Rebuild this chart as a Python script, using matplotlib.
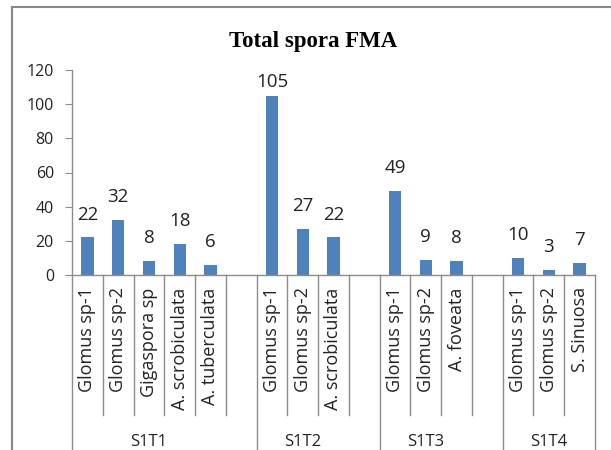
import matplotlib.pyplot as plt
import matplotlib.transforms as mtransforms
from matplotlib.lines import Line2D

# data
groups = ['S1T1', 'S1T2', 'S1T3', 'S1T4']
species = [
    ['Glomus sp-1', 'Glomus sp-2', 'Gigaspora sp', 'A. scrobiculata', 'A. tuberculata'],
    ['Glomus sp-1', 'Glomus sp-2', 'A. scrobiculata'],
    ['Glomus sp-1', 'Glomus sp-2', 'A. foveata'],
    ['Glomus sp-1', 'Glomus sp-2', 'S. Sinuosa'],
]
counts = [
    [22, 32, 8, 18, 6],
    [105, 27, 22],
    [49, 9, 8],
    [10, 3, 7],
]

bar_color = '#4F81BD'
line_color = '#8C8C8C'
y_max = 120

fig = plt.figure(figsize=(6.11, 4.5), dpi=100)
ax = fig.add_axes([72 / 611, 175 / 450, 523 / 611, 205 / 450])

# lay out slots: each group followed by one empty slot (except last)
slot = 0
xs, heights, labels = [], [], []
group_bounds = [0]
for gi, (names, vals) in enumerate(zip(species, counts)):
    for n, v in zip(names, vals):
        xs.append(slot + 0.5)
        heights.append(v)
        labels.append(n)
        slot += 1
    if gi < len(groups) - 1:
        slot += 1
    group_bounds.append(slot)
n_slots = slot

ax.bar(xs, heights, width=0.4, color=bar_color)
for x, h in zip(xs, heights):
    # labels that would run past the top of the plot area are pulled down
    off = 10 if h < y_max - 20 else 3
    ax.annotate(str(h), (x, h), xytext=(0, off), textcoords='offset points',
                ha='center', va='bottom', fontsize=13.5, color='#222222',
                family='Open Sans')

ax.set_xlim(0, n_slots)
ax.set_ylim(0, y_max)
ax.set_yticks(range(0, y_max + 1, 20))
ax.set_xticks([])
for s in ['top', 'right']:
    ax.spines[s].set_visible(False)
for s in ['left', 'bottom']:
    ax.spines[s].set_color(line_color)
    ax.spines[s].set_linewidth(1)
ax.tick_params(axis='y', direction='out', length=5, color=line_color,
               labelsize=11.5, labelcolor='#222222', pad=8)
for t in ax.get_yticklabels():
    t.set_family('Open Sans')

trans = mtransforms.blended_transform_factory(ax.transData, ax.transAxes)

# category separators
for b in range(n_slots + 1):
    y_end = -1.0 if b in group_bounds else -0.683
    ax.add_line(Line2D([b, b], [0, y_end], transform=trans, color=line_color,
                       lw=1, clip_on=False))

# category labels
for x, lab in zip(xs, labels):
    ax.text(x, -0.06, lab, transform=trans, rotation=90, ha='center', va='top',
            fontsize=13, color='#222222', family='Open Sans')

# group labels
for g, a, b in zip(groups, group_bounds[:-1], group_bounds[1:]):
    if g != groups[-1]:
        b = b - 1
    ax.text((a + b) / 2, -0.815, g, transform=trans, ha='center', va='center',
            fontsize=12, color='#222222', family='Open Sans')

fig.suptitle('Total spora FMA', x=0.512, y=0.932, fontsize=16.5, fontweight='bold',
             family='Liberation Serif')

# outer frame
fig.add_artist(Line2D([12 / 611, 12 / 611], [0, 443.5 / 450], transform=fig.transFigure,
                      color='#888888', lw=1.5))
fig.add_artist(Line2D([12 / 611, 1], [443.5 / 450, 443.5 / 450], transform=fig.transFigure,
                      color='#888888', lw=1.5))

fig.savefig('out.png', dpi=100)
